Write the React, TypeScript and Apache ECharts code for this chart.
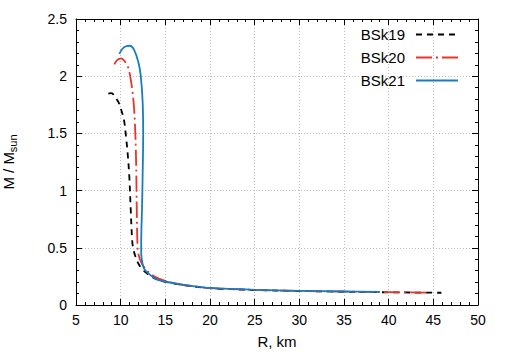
import React, { useEffect, useRef } from "react";
import * as echarts from "echarts";

const seriesNames = ["BSk19", "BSk20", "BSk21"];

const bsk19R = [8.62, 8.9, 9.18, 9.45, 9.74, 10.0, 10.37, 10.6, 10.78, 10.97, 11.12, 11.3, 11.45, 11.6, 11.97, 12.35, 12.72, 13.47, 14.4, 16.0, 18.0, 20.0, 22.5, 25.0, 27.5, 30.0, 32.5, 35.0, 37.5, 40.0, 42.5, 45.9];
const bsk19M = [1.848, 1.852, 1.842, 1.81, 1.775, 1.72, 1.617, 1.47, 1.326, 1.12, 0.845, 0.553, 0.48, 0.437, 0.364, 0.32, 0.291, 0.247, 0.215, 0.188, 0.163, 0.147, 0.138, 0.131, 0.126, 0.122, 0.119, 0.116, 0.113, 0.111, 0.109, 0.107];

const bsk20R = [9.29, 9.6, 10.04, 10.45, 10.86, 11.23, 11.45, 11.6, 11.7, 11.76, 11.8, 11.87, 11.97, 12.35, 13.1, 14.2, 16.0, 18.0, 20.0, 25.0, 30.0, 35.0, 40.0, 44.3];
const bsk20M = [2.104, 2.14, 2.156, 2.13, 2.07, 1.92, 1.77, 1.58, 1.35, 1.1, 0.845, 0.553, 0.45, 0.364, 0.29, 0.233, 0.19, 0.165, 0.148, 0.132, 0.123, 0.117, 0.112, 0.108];

const bsk21R = [9.85, 10.2, 10.6, 11.04, 11.5, 11.97, 12.24, 12.46, 12.52, 12.46, 12.39, 12.3, 12.3, 12.4, 12.6, 13.09, 14.2, 16.08, 18.3, 20.0, 25.0, 30.0, 35.0, 39.0];
const bsk21M = [2.195, 2.24, 2.262, 2.266, 2.23, 2.127, 2.01, 1.777, 1.5, 1.136, 0.845, 0.55, 0.45, 0.38, 0.32, 0.277, 0.219, 0.19, 0.163, 0.149, 0.133, 0.124, 0.118, 0.114];

const xTicks = { min: 5, max: 50, interval: 5 };
const yTicks = { min: 0, max: 2.5, interval: 0.5 };

const FONT = "'Liberation Sans', Arial, Helvetica, sans-serif";

function zip(r: number[], m: number[]) {
  return r.map((v, i) => [v, m[i]]);
}

export default function App() {
  const ref = useRef<HTMLDivElement>(null);
  useEffect(() => {
    if (!ref.current) return;
    const chart = echarts.init(ref.current, null, { renderer: "svg" });
    const baseX = {
      type: "value" as const,
      min: xTicks.min,
      max: xTicks.max,
      interval: xTicks.interval,
      axisLine: { show: true, onZero: false, lineStyle: { color: "#000", width: 1 } },
      axisTick: { show: true, inside: true, length: 6, lineStyle: { color: "#000" } },
      minorTick: { show: true, splitNumber: 5, length: 3, lineStyle: { color: "#000" } },
    };
    const baseY = {
      type: "value" as const,
      min: yTicks.min,
      max: yTicks.max,
      interval: yTicks.interval,
      axisLine: { show: true, onZero: false, lineStyle: { color: "#000", width: 1 } },
      axisTick: { show: true, inside: true, length: 6, lineStyle: { color: "#000" } },
      minorTick: { show: true, splitNumber: 5, length: 3, lineStyle: { color: "#000" } },
    };
    const grid = { color: "#bbbbbb", width: 1, type: [1, 2] };
    chart.setOption({
      animation: false,
      backgroundColor: "#fff",
      textStyle: { fontFamily: FONT },
      grid: { left: 76, right: 28, top: 19, bottom: 49, containLabel: false, outerBoundsMode: "none" },
      legend: {
        orient: "vertical",
        right: 42,
        top: 22,
        align: "right",
        itemWidth: 42,
        itemHeight: 14,
        itemGap: 8,
        itemStyle: { opacity: 0 },
        textStyle: { fontSize: 15, color: "#000", fontFamily: FONT, padding: [0, 6, 0, 0] },
        data: seriesNames,
      },
      xAxis: [
        {
          ...baseX,
          position: "bottom",
          name: "R, km",
          nameLocation: "middle",
          nameGap: 29,
          nameTextStyle: { fontSize: 15, color: "#000", fontFamily: FONT },
          axisLabel: { show: true, fontSize: 14, color: "#000", margin: 8, fontFamily: FONT },
          splitLine: { show: true, lineStyle: grid },
        },
        {
          ...baseX,
          position: "top",
          axisLabel: { show: false },
          splitLine: { show: false },
        },
      ],
      yAxis: [
        {
          ...baseY,
          position: "left",
          name: "M / M{s|sun}",
          nameLocation: "middle",
          nameGap: 58,
          nameRotate: 90,
          nameTextStyle: {
            fontSize: 15,
            color: "#000",
            fontFamily: FONT,
            lineHeight: 20,
            rich: { s: { fontSize: 11, fontFamily: FONT, color: "#000", lineHeight: 20, verticalAlign: "bottom", padding: [8, 0, 0, 0] } },
          },
          axisLabel: { show: true, fontSize: 14, color: "#000", margin: 9, fontFamily: FONT },
          splitLine: { show: true, lineStyle: grid },
        },
        {
          ...baseY,
          position: "right",
          axisLabel: { show: false },
          splitLine: { show: false },
        },
      ],
      series: [
        {
          name: seriesNames[0],
          type: "line",
          data: zip(bsk19R, bsk19M),
          symbol: "none",
          smooth: 0.35,
          xAxisIndex: 0,
          yAxisIndex: 0,
          color: "#000000",
          lineStyle: { color: "#000000", width: 1.8, type: [6, 5] },
        },
        {
          name: seriesNames[1],
          type: "line",
          data: zip(bsk20R, bsk20M),
          symbol: "none",
          smooth: 0.35,
          xAxisIndex: 0,
          yAxisIndex: 0,
          color: "#e8352a",
          lineStyle: { color: "#e8352a", width: 1.8, type: [16, 4, 2, 4] },
        },
        {
          name: seriesNames[2],
          type: "line",
          data: zip(bsk21R, bsk21M),
          symbol: "none",
          smooth: 0.35,
          xAxisIndex: 0,
          yAxisIndex: 0,
          color: "#1a7bc0",
          lineStyle: { color: "#1a7bc0", width: 1.8 },
        },
      ],
    });
    return () => chart.dispose();
  }, []);
  return <div ref={ref} style={{ width: 506, height: 354, position: "absolute", left: 0, top: 0 }} />;
}
